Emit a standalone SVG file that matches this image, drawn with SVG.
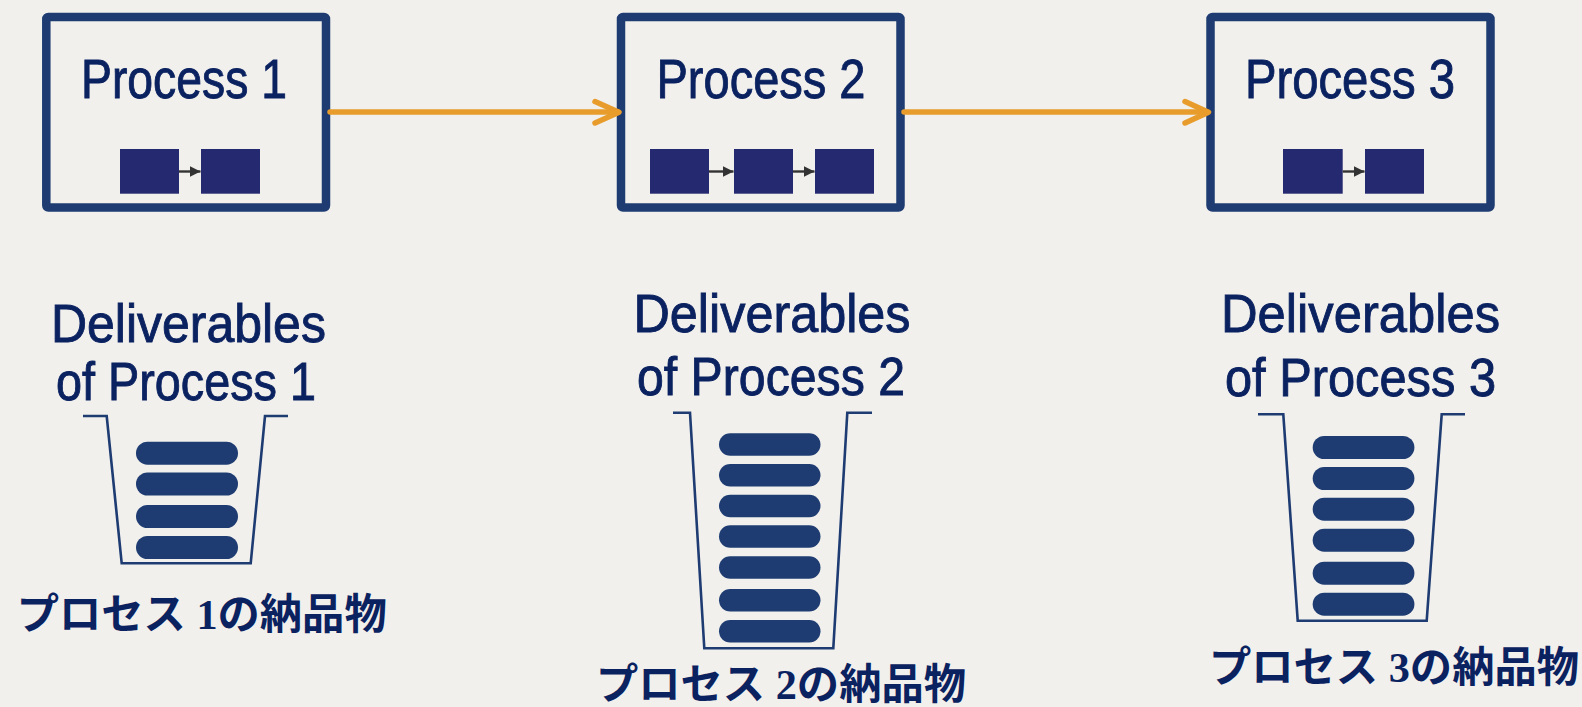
<svg xmlns="http://www.w3.org/2000/svg" width="1582" height="707" viewBox="0 0 1582 707">
<defs>
<style>
.box{fill:none;stroke:#1e3c72;stroke-width:8.5}
.sq{fill:#25296f}
.ptitle{font-family:"Liberation Sans",Arial,sans-serif;font-size:56px;fill:#0b2260;stroke:#0b2260;stroke-width:0.9;text-anchor:middle}
.deliv{font-family:"Liberation Sans",Arial,sans-serif;font-size:54px;fill:#0b2260;stroke:#0b2260;stroke-width:0.9;text-anchor:middle}
.jp{font-family:"Liberation Serif","Noto Sans CJK JP",serif;font-size:42px;font-weight:bold;fill:#0b2260;text-anchor:middle}
.bin{fill:none;stroke:#1e3c72;stroke-width:2.6;stroke-linejoin:miter}
.pill{fill:#1e3c72}
.flow{stroke:#e89c2c;stroke-width:5.5;fill:none;stroke-linecap:round;stroke-linejoin:round}
.sub{stroke:#333;stroke-width:2.4}
</style>
<marker id="ah" viewBox="0 0 10 10" refX="10" refY="5" markerWidth="11" markerHeight="11" markerUnits="userSpaceOnUse" orient="auto">
<path d="M0,0 L10,5 L0,10 Z" fill="#333"/>
</marker>
</defs>
<rect width="1582" height="707" fill="#f1f0ed"/>

<g id="process1">
<rect class="box" x="46.3" y="17" width="279.7" height="190.5" rx="2"/>
<text class="ptitle" x="184" y="98" textLength="206" lengthAdjust="spacingAndGlyphs">Process 1</text>
<rect class="sq" x="120" y="149" width="59" height="44.7"/>
<rect class="sq" x="201" y="149" width="59" height="44.7"/>
<line class="sub" x1="179" y1="171.5" x2="200.5" y2="171.5" marker-end="url(#ah)"/>
</g>

<g id="process2">
<rect class="box" x="621" y="17" width="279.5" height="190.5" rx="2"/>
<text class="ptitle" x="761" y="98" textLength="209" lengthAdjust="spacingAndGlyphs">Process 2</text>
<rect class="sq" x="650" y="149" width="59" height="44.7"/>
<rect class="sq" x="734" y="149" width="59" height="44.7"/>
<rect class="sq" x="815" y="149" width="59" height="44.7"/>
<line class="sub" x1="709" y1="171.5" x2="733.5" y2="171.5" marker-end="url(#ah)"/>
<line class="sub" x1="793" y1="171.5" x2="814.5" y2="171.5" marker-end="url(#ah)"/>
</g>

<g id="process3">
<rect class="box" x="1210.5" y="17" width="280" height="190.5" rx="2"/>
<text class="ptitle" x="1350" y="98" textLength="210" lengthAdjust="spacingAndGlyphs">Process 3</text>
<rect class="sq" x="1283" y="149" width="59.7" height="44.7"/>
<rect class="sq" x="1365" y="149" width="59" height="44.7"/>
<line class="sub" x1="1342.7" y1="171.5" x2="1364.5" y2="171.5" marker-end="url(#ah)"/>
</g>

<g id="connectors">
<line class="flow" x1="330" y1="112" x2="618" y2="112"/>
<polyline class="flow" points="595,101.5 619,112.2 595,123"/>
<line class="flow" x1="904" y1="112" x2="1207" y2="112"/>
<polyline class="flow" points="1185,101.5 1208.5,112.2 1185,123"/>
</g>

<g id="deliverables1">
<text class="deliv" x="188.4" y="342" textLength="275" lengthAdjust="spacingAndGlyphs">Deliverables</text>
<text class="deliv" x="186" y="400" textLength="260" lengthAdjust="spacingAndGlyphs">of Process 1</text>
<path class="bin" d="M83,416 H106.7 L121.7,563.3 H250.7 L265,416 H288"/>
<rect class="pill" x="136" y="441.7" width="102" height="23" rx="11.5"/>
<rect class="pill" x="136" y="472.5" width="102" height="23" rx="11.5"/>
<rect class="pill" x="136" y="505" width="102" height="23" rx="11.5"/>
<rect class="pill" x="136" y="536" width="102" height="23" rx="11.5"/>
<text class="jp" x="201.7" y="629" textLength="370" lengthAdjust="spacingAndGlyphs">プロセス 1の納品物</text>
</g>

<g id="deliverables2">
<text class="deliv" x="772" y="332" textLength="277" lengthAdjust="spacingAndGlyphs">Deliverables</text>
<text class="deliv" x="771" y="395" textLength="268" lengthAdjust="spacingAndGlyphs">of Process 2</text>
<path class="bin" d="M673,412.7 H690 L704.3,648.3 H833.3 L847.3,412.7 H872"/>
<rect class="pill" x="719" y="433.3" width="101.5" height="22.5" rx="11.25"/>
<rect class="pill" x="719" y="464" width="101.5" height="22.5" rx="11.25"/>
<rect class="pill" x="719" y="494.7" width="101.5" height="22.5" rx="11.25"/>
<rect class="pill" x="719" y="525.3" width="101.5" height="22.5" rx="11.25"/>
<rect class="pill" x="719" y="556.3" width="101.5" height="22.5" rx="11.25"/>
<rect class="pill" x="719" y="589" width="101.5" height="22.5" rx="11.25"/>
<rect class="pill" x="719" y="620" width="101.5" height="22.5" rx="11.25"/>
<text class="jp" x="781" y="699" textLength="370" lengthAdjust="spacingAndGlyphs">プロセス 2の納品物</text>
</g>

<g id="deliverables3">
<text class="deliv" x="1360.5" y="332" textLength="279" lengthAdjust="spacingAndGlyphs">Deliverables</text>
<text class="deliv" x="1360.5" y="395.5" textLength="271" lengthAdjust="spacingAndGlyphs">of Process 3</text>
<path class="bin" d="M1258,414.3 H1283.3 L1297.7,620.7 H1426.7 L1441.7,414.3 H1465"/>
<rect class="pill" x="1312.7" y="436" width="101.7" height="23" rx="11.5"/>
<rect class="pill" x="1312.7" y="467" width="101.7" height="23" rx="11.5"/>
<rect class="pill" x="1312.7" y="497.7" width="101.7" height="23" rx="11.5"/>
<rect class="pill" x="1312.7" y="528.7" width="101.7" height="23" rx="11.5"/>
<rect class="pill" x="1312.7" y="561.7" width="101.7" height="23" rx="11.5"/>
<rect class="pill" x="1312.7" y="592.7" width="101.7" height="23" rx="11.5"/>
<text class="jp" x="1394" y="682" textLength="370" lengthAdjust="spacingAndGlyphs">プロセス 3の納品物</text>
</g>
</svg>
